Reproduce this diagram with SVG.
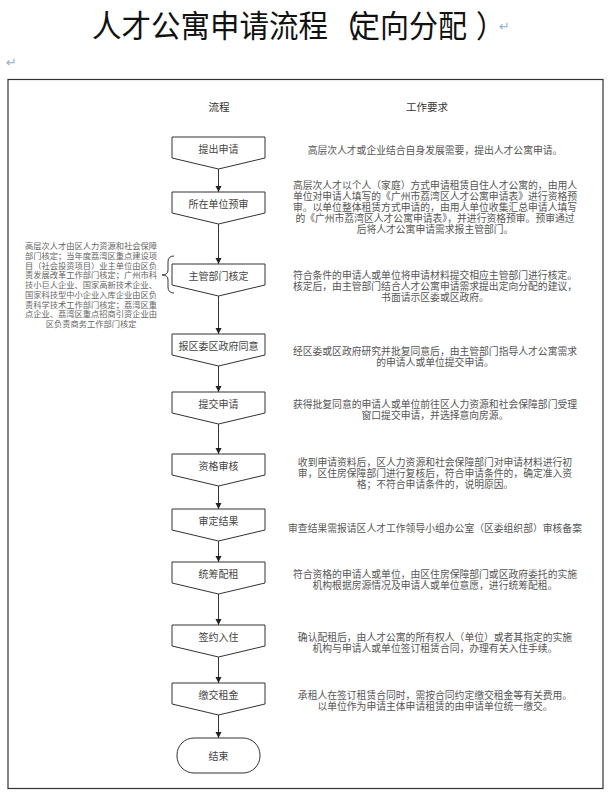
<svg xmlns="http://www.w3.org/2000/svg" width="615" height="798" viewBox="0 0 615 798">
<style>
.title{font-family:"Noto Sans CJK SC","Noto Sans",sans-serif;font-size:31px;fill:#111}
.ret{font-family:"DejaVu Sans",sans-serif;font-size:13px;fill:#8fb0cf}
.hdr{font-family:"Noto Sans CJK SC",sans-serif;font-size:10.5px;fill:#333;text-anchor:middle}
.node{fill:#fff;stroke:#333;stroke-width:1}
.nt{font-family:"Noto Sans CJK SC",sans-serif;font-size:10px;fill:#444;text-anchor:middle;dominant-baseline:central}
.rt{font-family:"Noto Sans CJK SC",sans-serif;font-size:9.8px;fill:#555;text-anchor:middle}
.lt{font-family:"Noto Sans CJK SC",sans-serif;font-size:8.25px;fill:#666;text-anchor:middle}
.conn{stroke:#333;stroke-width:1;fill:none}
</style>
<defs>
<marker id="ah" viewBox="0 0 10 10" refX="10" refY="5" markerWidth="6" markerHeight="7" markerUnits="userSpaceOnUse" orient="auto">
<path d="M0,0 L10,5 L0,10 z" fill="#222"/>
</marker>
</defs>
<rect width="615" height="798" fill="#fff"/>
<g id="title">
<text class="title" x="92" y="37" textLength="236" lengthAdjust="spacingAndGlyphs">人才公寓申请流程</text>
<text class="title" x="330" y="37" textLength="29" lengthAdjust="spacingAndGlyphs">（</text>
<text class="title" x="351" y="37" textLength="116" lengthAdjust="spacingAndGlyphs">定向分配</text>
<text class="title" x="476" y="37" textLength="29" lengthAdjust="spacingAndGlyphs">）</text>
</g>
<text class="ret" x="499" y="31">↵</text>
<text class="ret" x="6" y="67">↵</text>
<rect x="8" y="79.5" width="595" height="709" fill="none" stroke="#333" stroke-width="1.2"/>
<text class="hdr" x="219" y="111" font-size="11">流程</text>
<text class="hdr" x="427" y="111">工作要求</text>

<g id="connectors">
<line class="conn" x1="218.5" y1="169" x2="218.5" y2="192" marker-end="url(#ah)"/>
<line class="conn" x1="218.5" y1="224" x2="218.5" y2="264" marker-end="url(#ah)"/>
<line class="conn" x1="218.5" y1="296" x2="218.5" y2="334" marker-end="url(#ah)"/>
<line class="conn" x1="218.5" y1="366" x2="218.5" y2="392" marker-end="url(#ah)"/>
<line class="conn" x1="218.5" y1="424" x2="218.5" y2="454" marker-end="url(#ah)"/>
<line class="conn" x1="218.5" y1="486" x2="218.5" y2="509" marker-end="url(#ah)"/>
<line class="conn" x1="218.5" y1="541" x2="218.5" y2="562" marker-end="url(#ah)"/>
<line class="conn" x1="218.5" y1="594" x2="218.5" y2="625" marker-end="url(#ah)"/>
<line class="conn" x1="218.5" y1="657" x2="218.5" y2="683" marker-end="url(#ah)"/>
<line class="conn" x1="218.5" y1="715" x2="218.5" y2="738" marker-end="url(#ah)"/>
<path class="conn" d="M174,256 Q168,256 168,262 L168,270 Q168,275 162,275 Q168,275 168,280 L168,287 Q168,293 174,293"/>
</g>

<g id="n1"><path class="node" d="M172,137 h93 v21 l-46.5,11 l-46.5,-11 z"/><text class="nt" x="218.5" y="148.5">提出申请</text></g>
<g id="n2"><path class="node" d="M172,192 h93 v21 l-46.5,11 l-46.5,-11 z"/><text class="nt" x="218.5" y="203">所在单位预审</text></g>
<g id="n3"><path class="node" d="M172,264 h93 v21 l-46.5,11 l-46.5,-11 z"/><text class="nt" x="218.5" y="275">主管部门核定</text></g>
<g id="n4"><path class="node" d="M172,334 h93 v21 l-46.5,11 l-46.5,-11 z"/><text class="nt" x="218.5" y="345">报区委区政府同意</text></g>
<g id="n5"><path class="node" d="M172,392 h93 v21 l-46.5,11 l-46.5,-11 z"/><text class="nt" x="218.5" y="403">提交申请</text></g>
<g id="n6"><path class="node" d="M172,454 h93 v21 l-46.5,11 l-46.5,-11 z"/><text class="nt" x="218.5" y="465">资格审核</text></g>
<g id="n7"><path class="node" d="M172,509 h93 v21 l-46.5,11 l-46.5,-11 z"/><text class="nt" x="218.5" y="520">审定结果</text></g>
<g id="n8"><path class="node" d="M172,562 h93 v21 l-46.5,11 l-46.5,-11 z"/><text class="nt" x="218.5" y="573">统筹配租</text></g>
<g id="n9"><path class="node" d="M172,625 h93 v21 l-46.5,11 l-46.5,-11 z"/><text class="nt" x="218.5" y="636">签约入住</text></g>
<g id="n10"><path class="node" d="M172,683 h93 v21 l-46.5,11 l-46.5,-11 z"/><text class="nt" x="218.5" y="694">缴交租金</text></g>
<g id="n11"><rect class="node" x="177" y="738" width="83" height="35" rx="17"/><text class="nt" x="218.5" y="755.5">结束</text></g>

<g id="note">
<text class="lt" x="91" y="249">高层次人才由区人力资源和社会保障</text>
<text class="lt" x="91" y="258.75">部门核定；当年度荔湾区重点建设项</text>
<text class="lt" x="91" y="268.5">目（社会投资项目）业主单位由区负</text>
<text class="lt" x="91" y="278.25">责发展改革工作部门核定；广州市科</text>
<text class="lt" x="91" y="288">技小巨人企业、国家高新技术企业、</text>
<text class="lt" x="91" y="297.75">国家科技型中小企业入库企业由区负</text>
<text class="lt" x="91" y="307.5">责科学技术工作部门核定；荔湾区重</text>
<text class="lt" x="91" y="317.25">点企业、荔湾区重点招商引资企业由</text>
<text class="lt" x="91" y="327">区负责商务工作部门核定</text>
</g>

<g id="req1"><text class="rt" x="435" y="154">高层次人才或企业结合自身发展需要，提出人才公寓申请。</text></g>
<g id="req2">
<text class="rt" x="435" y="188.5">高层次人才以个人（家庭）方式申请租赁自住人才公寓的，由用人</text>
<text class="rt" x="435" y="199.5">单位对申请人填写的《广州市荔湾区人才公寓申请表》进行资格预</text>
<text class="rt" x="435" y="210.5">审。以单位整体租赁方式申请的，由用人单位收集汇总申请人填写</text>
<text class="rt" x="435" y="221.5">的《广州市荔湾区人才公寓申请表》，并进行资格预审。预审通过</text>
<text class="rt" x="435" y="232.5">后将人才公寓申请需求报主管部门。</text>
</g>
<g id="req3">
<text class="rt" x="435" y="278.5">符合条件的申请人或单位将申请材料提交相应主管部门进行核定。</text>
<text class="rt" x="435" y="289.5">核定后，由主管部门结合人才公寓申请需求提出定向分配的建议，</text>
<text class="rt" x="435" y="300.5">书面请示区委或区政府。</text>
</g>
<g id="req4">
<text class="rt" x="435" y="354.5">经区委或区政府研究并批复同意后，由主管部门指导人才公寓需求</text>
<text class="rt" x="435" y="366">的申请人或单位提交申请。</text>
</g>
<g id="req5">
<text class="rt" x="435" y="407.5">获得批复同意的申请人或单位前往区人力资源和社会保障部门受理</text>
<text class="rt" x="435" y="418.5">窗口提交申请，并选择意向房源。</text>
</g>
<g id="req6">
<text class="rt" x="435" y="465.5">收到申请资料后，区人力资源和社会保障部门对申请材料进行初</text>
<text class="rt" x="435" y="476.5">审，区住房保障部门进行复核后，符合申请条件的，确定准入资</text>
<text class="rt" x="435" y="487.5">格；不符合申请条件的，说明原因。</text>
</g>
<g id="req7"><text class="rt" x="435" y="531.5">审查结果需报请区人才工作领导小组办公室（区委组织部）审核备案</text></g>
<g id="req8">
<text class="rt" x="435" y="577.5">符合资格的申请人或单位，由区住房保障部门或区政府委托的实施</text>
<text class="rt" x="435" y="589">机构根据房源情况及申请人或单位意愿，进行统筹配租。</text>
</g>
<g id="req9">
<text class="rt" x="435" y="640.5">确认配租后，由人才公寓的所有权人（单位）或者其指定的实施</text>
<text class="rt" x="435" y="651.5">机构与申请人或单位签订租赁合同，办理有关入住手续。</text>
</g>
<g id="req10">
<text class="rt" x="435" y="698.5">承租人在签订租赁合同时，需按合同约定缴交租金等有关费用。</text>
<text class="rt" x="435" y="710">以单位作为申请主体申请租赁的由申请单位统一缴交。</text>
</g>
</svg>
